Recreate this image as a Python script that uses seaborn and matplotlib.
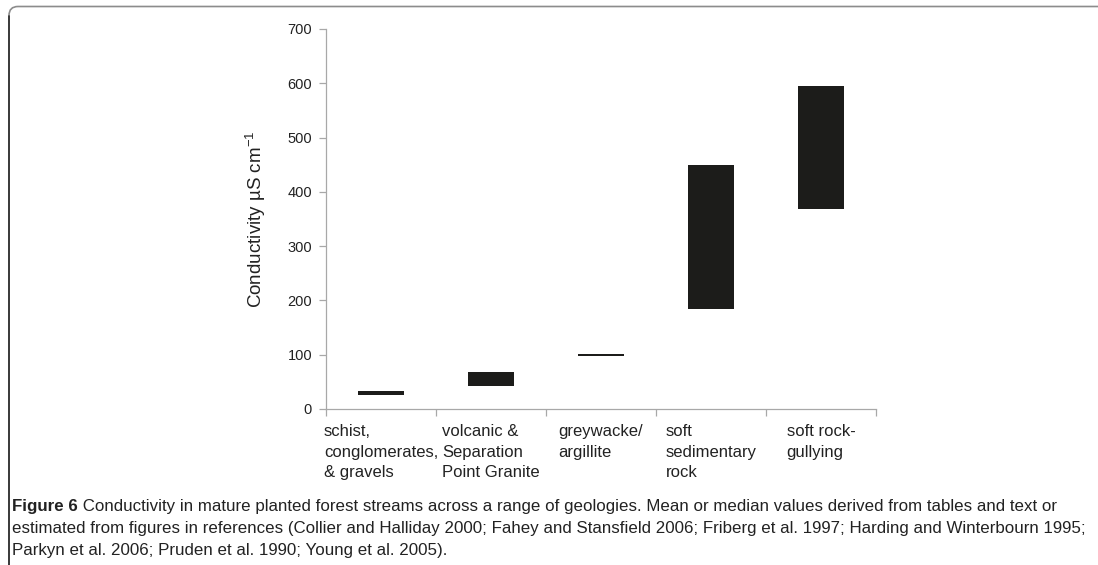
import numpy as np
import pandas as pd
import seaborn as sns
import matplotlib.pyplot as plt
from matplotlib.patches import FancyBboxPatch
from matplotlib.lines import Line2D
from matplotlib.transforms import IdentityTransform

# data
geologies = [
    "schist,\nconglomerates,\n& gravels",
    "volcanic &\nSeparation\nPoint Granite",
    "greywacke/\nargillite",
    "soft\nsedimentary\nrock",
    "soft rock-\ngullying",
]
cond_low = [26, 42, 98, 185, 368]
cond_high = [34, 68, 102, 450, 595]
y_ticks = [0, 100, 200, 300, 400, 500, 600, 700]

caption_head = "Figure 6"
caption_lines = [
    " Conductivity in mature planted forest streams across a range of geologies. "
    "Mean or median values derived from tables and text or",
    "estimated from figures in references (Collier and Halliday 2000; Fahey and "
    "Stansfield 2006; Friberg et al. 1997; Harding and Winterbourn 1995;",
    "Parkyn et al. 2006; Pruden et al. 1990; Young et al. 2005).",
]

bar_color = "#1c1c1a"
text_color = "#222222"
axis_grey = "#a8a8a8"

sns.set_style("ticks")
plt.rcParams["font.family"] = ["Liberation Sans", "DejaVu Sans"]
plt.rcParams["mathtext.default"] = "regular"

W, H = 1098, 565
fig = plt.figure(figsize=(W / 100, H / 100), dpi=100)
ax = fig.add_axes([326 / W, 1 - 409 / H, 550 / W, 380 / H])

df = pd.DataFrame({"geology": geologies, "low": cond_low, "high": cond_high})
df["span"] = df["high"] - df["low"]

sns.barplot(
    data=df, x="geology", y="span", bottom=df["low"].to_numpy(),
    color=bar_color, saturation=1, width=0.41, errorbar=None,
    linewidth=0, ax=ax,
)

ax.set_xlim(-0.5, len(geologies) - 0.5)
ax.set_ylim(0, 700)
ax.set_yticks(y_ticks)
ax.set_xlabel("")
ax.set_ylabel("Conductivity µS cm$^{-1}$", fontsize=13.5, color=text_color)
ax.yaxis.set_label_coords(-0.105, 0.5)

for side in ["top", "right"]:
    ax.spines[side].set_visible(False)
for side in ["left", "bottom"]:
    ax.spines[side].set_color(axis_grey)
    ax.spines[side].set_linewidth(0.9)

ax.tick_params(axis="y", length=5, width=0.9, color=axis_grey, pad=5,
               labelsize=10.5, labelcolor=text_color)
ax.set_xticks(np.arange(len(geologies)))
ax.set_xticks(np.arange(-0.5, len(geologies)), minor=True)
ax.tick_params(axis="x", which="major", length=0, pad=11,
               labelsize=12, labelcolor=text_color)
ax.tick_params(axis="x", which="minor", length=5, width=0.9, color=axis_grey)
for t in ax.get_xticklabels():
    t.set_multialignment("left")
    t.set_linespacing(1.45)

# caption, sized so the widest line fits inside the frame
cap_family = ["Liberation Sans Narrow", "Liberation Sans", "DejaVu Sans"]
x0 = 12
baselines = [511, 533, 555]
fs = 10
head = fig.text(x0 / W, 1 - baselines[0] / H, caption_head, fontsize=fs,
                fontweight="bold", family=cap_family, color=text_color,
                va="baseline")
body = [fig.text(x0 / W, 1 - b / H, line, fontsize=fs, family=cap_family,
                 color=text_color, va="baseline")
        for b, line in zip(baselines, caption_lines)]
fig.canvas.draw()
r = fig.canvas.get_renderer()
widths = [head.get_window_extent(r).width + body[0].get_window_extent(r).width,
          body[1].get_window_extent(r).width]
fs = fs * (1086 - x0) / max(widths)
for t in [head] + body:
    t.set_fontsize(fs)
fig.canvas.draw()
hw = head.get_window_extent(r).width
body[0].set_x((x0 + hw) / W)

# frame around the figure
frame = FancyBboxPatch((9, -30), 1300, H - 6.5 + 30,
                       boxstyle="round,pad=0,rounding_size=9",
                       transform=IdentityTransform(), fill=False,
                       edgecolor="#8c8c8c", linewidth=1.2)
fig.add_artist(frame)
fig.add_artist(Line2D([9, 9], [-10, H - 16], transform=IdentityTransform(),
                      color="#2a2a2a", linewidth=1.2))

fig.savefig("out.png", dpi=100)
